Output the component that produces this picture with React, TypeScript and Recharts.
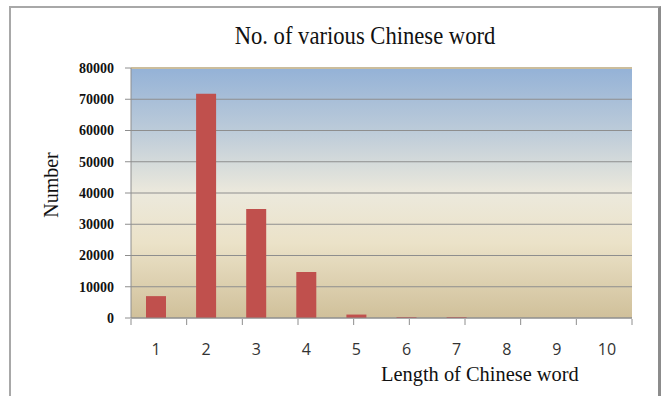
import React from 'react';
import {
  BarChart,
  Bar,
  XAxis,
  YAxis,
  CartesianGrid,
  ReferenceLine,
} from 'recharts';

// word length (characters) and how many words have that length
const lengths = ['1', '2', '3', '4', '5', '6', '7', '8', '9', '10'];
const counts = [7000, 71800, 34900, 14700, 1100, 300, 300, 0, 0, 0];
const yTicks = [0, 10000, 20000, 30000, 40000, 50000, 60000, 70000, 80000];
const edgeTicks = [0, 1, 2, 3, 4, 5, 6, 7, 8, 9, 10];

const data = lengths.map((len, i) => ({ len, count: counts[i] }));

const serif = '"Liberation Serif", "DejaVu Serif", serif';

// tick marks only, no labels, on the category boundaries
const NoLabel = () => <g />;

export default function App() {
  return (
    <div
      style={{
        position: 'fixed',
        left: 0,
        top: 0,
        width: 668,
        height: 396,
        background: '#ffffff',
        overflow: 'hidden',
      }}
    >
      {/* outer chart frame, cut off at the bottom */}
      <div
        style={{
          position: 'absolute',
          left: 9,
          top: 6,
          width: 647,
          height: 420,
          borderLeft: '2px solid #a8a8a8',
          borderTop: '2px solid #a8a8a8',
          borderRight: '3px solid #8c8c8c',
        }}
      />
      <svg width={0} height={0} style={{ position: 'absolute' }}>
        <defs>
          <linearGradient id="plotBg" x1="0" y1="0" x2="0" y2="1">
            <stop offset="0%" stopColor="#94b2d7" />
            <stop offset="25%" stopColor="#bccbd9" />
            <stop offset="50%" stopColor="#ece9dc" />
            <stop offset="70%" stopColor="#ebe2c8" />
            <stop offset="100%" stopColor="#d0c09a" />
          </linearGradient>
        </defs>
      </svg>
      <div
        style={{
          position: 'absolute',
          left: 0,
          top: 21,
          width: 730,
          textAlign: 'center',
          fontFamily: serif,
          fontSize: 26,
          color: '#111',
          transform: 'scaleX(0.87)',
          transformOrigin: '365px 0',
        }}
      >
        No. of various Chinese word
      </div>
      <div
        style={{
          position: 'absolute',
          left: 51,
          top: 185,
          fontFamily: serif,
          fontSize: 20,
          color: '#111',
          transform: 'translate(-50%, -50%) rotate(-90deg)',
          whiteSpace: 'nowrap',
        }}
      >
        Number
      </div>
      <div
        style={{
          position: 'absolute',
          left: 381,
          top: 363,
          fontFamily: serif,
          fontSize: 20,
          color: '#111',
          whiteSpace: 'nowrap',
          transform: 'scaleX(1.02)',
          transformOrigin: '0 0',
        }}
      >
        Length of Chinese word
      </div>
      <div style={{ position: 'absolute', left: 0, top: 0 }}>
        <BarChart
          width={668}
          height={396}
          data={data}
          margin={{ top: 68, right: 36, left: 0, bottom: 0 }}
          barSize={20}
        >
          <CartesianGrid
            vertical={false}
            stroke="#8e8e8e"
            fill="url(#plotBg)"
            fillOpacity={1}
          />
          <ReferenceLine y={80000} stroke="#cbbd9c" strokeWidth={2} />
          <YAxis
            width={131}
            domain={[0, 80000]}
            ticks={yTicks}
            interval={0}
            tickSize={6}
            tickMargin={11}
            stroke="#8e8e8e"
            tick={{
              fill: '#111',
              fontFamily: serif,
              fontWeight: 'bold',
              fontSize: 14,
            }}
          />
          <XAxis
            xAxisId="cat"
            dataKey="len"
            height={1}
            tickLine={false}
            stroke="#8e8e8e"
            tickMargin={20}
            tick={{ fill: '#333', fontFamily: '"Open Sans", sans-serif', fontSize: 16 }}
          />
          <XAxis
            xAxisId="edge"
            type="number"
            domain={[0, 10]}
            ticks={edgeTicks}
            interval={0}
            height={77}
            tick={NoLabel}
            tickSize={6}
            tickLine={{ stroke: '#8e8e8e' }}
            axisLine={false}
          />
          <Bar
            xAxisId="cat"
            dataKey="count"
            fill="#c0504d"
            isAnimationActive={false}
          />
        </BarChart>
      </div>
    </div>
  );
}
